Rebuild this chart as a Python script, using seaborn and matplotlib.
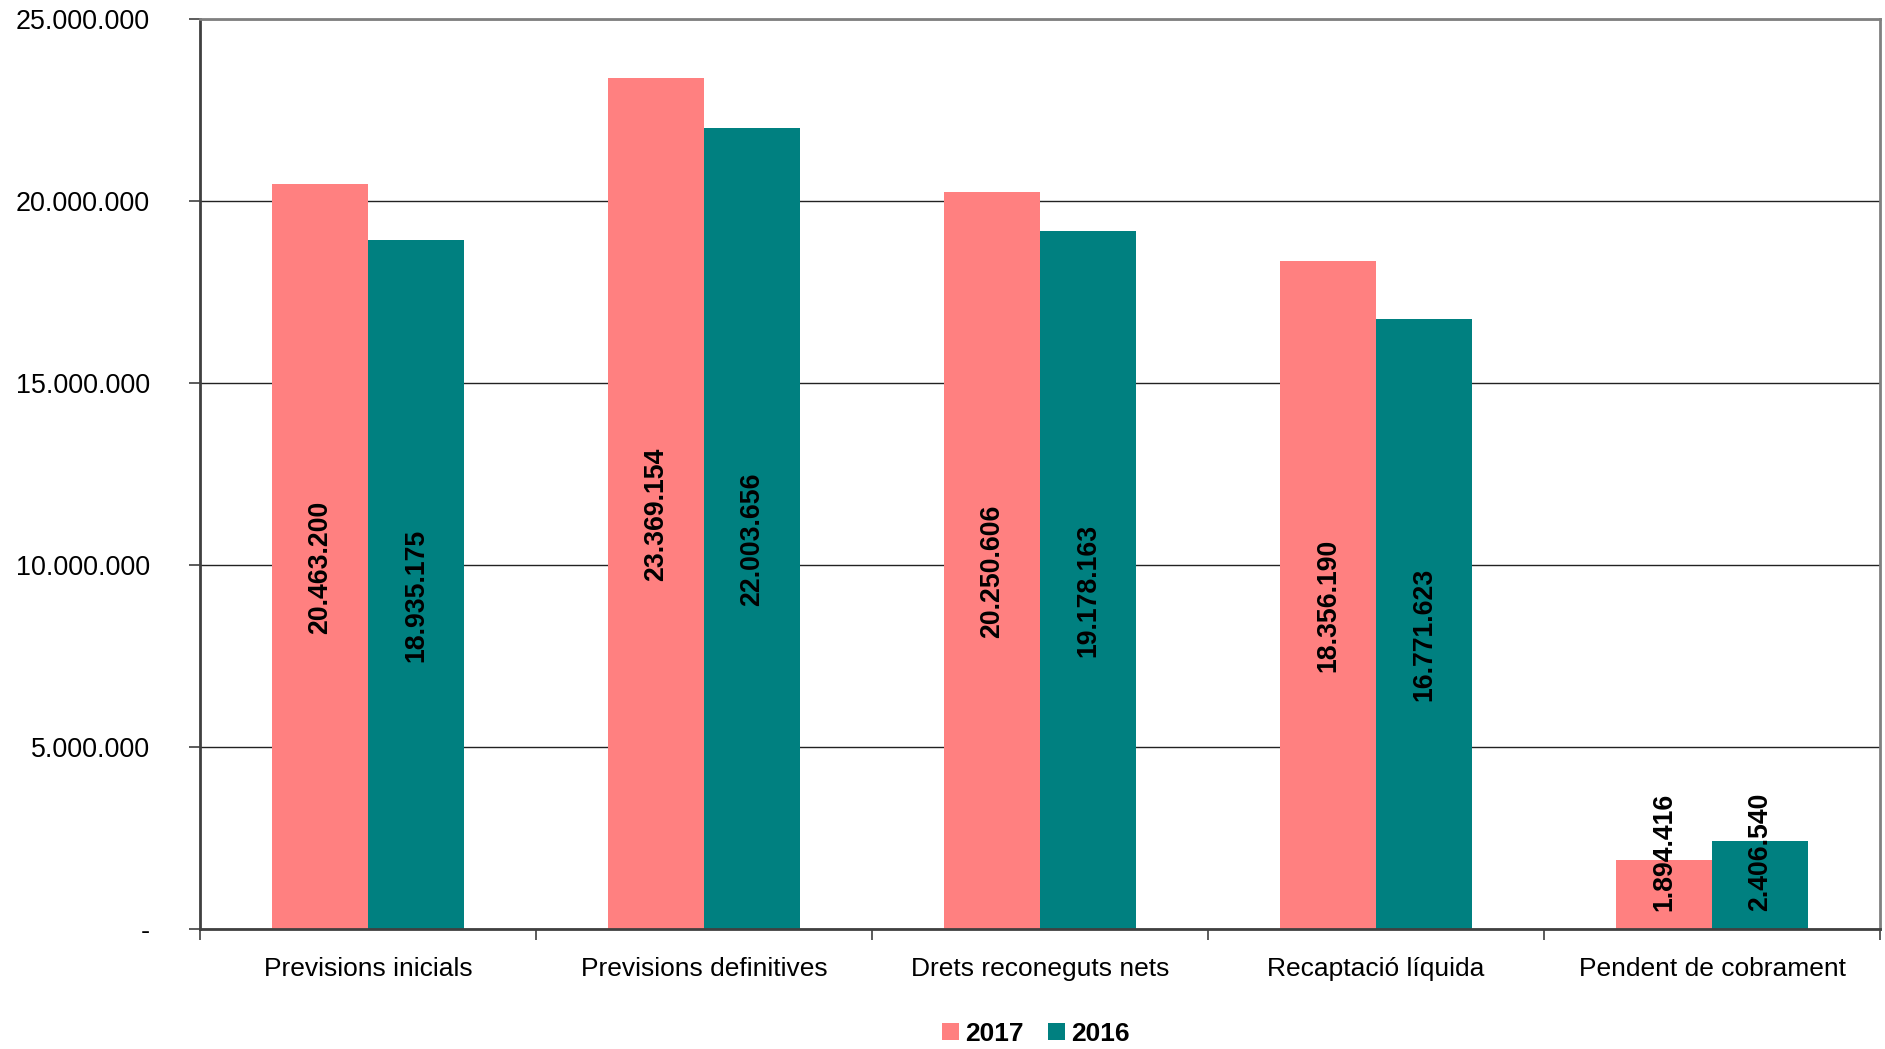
"""
Pressupost d'ingressos: comparativa 2017 / 2016
"""
import matplotlib
matplotlib.use("Agg")
import matplotlib.pyplot as plt
from matplotlib.ticker import FuncFormatter, FixedLocator
import seaborn as sns
import pandas as pd

# dades
categories = [
    "Previsions inicials",
    "Previsions definitives",
    "Drets reconeguts nets",
    "Recaptació líquida",
    "Pendent de cobrament",
]
valors_2017 = [20463200, 23369154, 20250606, 18356190, 1894416]
valors_2016 = [18935175, 22003656, 19178163, 16771623, 2406540]
anys = ["2017", "2016"]
colors = {"2017": "#FF8080", "2016": "#008080"}
y_ticks = [0, 5000000, 10000000, 15000000, 20000000, 25000000]

sns.set_style("white")
plt.rcParams['font.family'] = ['Liberation Sans', 'DejaVu Sans']
plt.rcParams['text.color'] = 'black'
plt.rcParams['xtick.color'] = 'black'
plt.rcParams['ytick.color'] = 'black'


def punts(v, pos=None):
    """format amb separador de milers '.' i '-' per al zero"""
    if v == 0:
        return "-"
    return f"{int(round(v)):,}".replace(",", ".")


df = pd.DataFrame({
    "categoria": categories * 2,
    "any": [anys[0]] * len(categories) + [anys[1]] * len(categories),
    "valor": valors_2017 + valors_2016,
})

W, H = 1885, 1049
fig = plt.figure(figsize=(W / 100, H / 100), dpi=100)
ax = fig.add_axes([200 / W, 1 - 929 / H, (1880 - 200) / W, (929 - 19) / H])

sns.barplot(
    data=df, x="categoria", y="valor", hue="any",
    order=categories, hue_order=anys, palette=colors,
    width=0.572, gap=0, saturation=1, linewidth=0, ax=ax, legend=False,
)

ax.set_ylim(0, 25000000)
ax.set_xlim(-0.5, len(categories) - 0.5)
ax.set_xlabel("")
ax.set_ylabel("")

# eix Y
ax.yaxis.set_major_locator(FixedLocator(y_ticks))
ax.yaxis.set_major_formatter(FuncFormatter(punts))
ax.tick_params(axis="y", direction="out", length=8, width=1.2, color="#404040",
               labelsize=19.4, pad=28, left=True, labelcolor="black")
ax.yaxis.grid(True, color="#222222", linewidth=1)
ax.set_axisbelow(True)

# eix X: marques entre categories
ax.set_xticks(range(len(categories)))
ax.set_xticklabels(categories, fontsize=19)
ax.tick_params(axis="x", which="major", length=0, pad=20, labelcolor="black")
ax.set_xticks([i - 0.5 for i in range(len(categories) + 1)], minor=True)
ax.tick_params(axis="x", which="minor", direction="out", length=8, width=1.2,
               color="#404040", bottom=True)

for side, col in [("left", "#404040"), ("bottom", "#404040"), ("top", "#808080"), ("right", "#808080")]:
    ax.spines[side].set_visible(True)
    ax.spines[side].set_color(col)
    ax.spines[side].set_linewidth(2)

# etiquetes de valor dins de les barres
desplac = 300000     # una mica per sota del centre
min_centre = 2115000  # les barres baixes no baixen d'aqui
for cont in ax.containers:
    for bar in cont:
        h = bar.get_height()
        xc = bar.get_x() + bar.get_width() / 2
        ax.text(xc, max(h / 2 - desplac, min_centre), punts(h), rotation=90,
                ha="center", va="center", fontsize=19.2, fontweight="bold",
                color="black")

# llegenda
handles = [plt.Rectangle((0, 0), 1, 1, facecolor=colors[a], edgecolor="none") for a in anys]
fig.legend(handles, anys, loc="center", bbox_to_anchor=(1036 / W, 1 - 1034 / H),
           ncol=2, frameon=False, handlelength=0.64, handleheight=0.64,
           handletextpad=0.25, columnspacing=0.9,
           prop={"size": 19, "weight": "bold"})

plt.savefig("out.png", dpi=100)
